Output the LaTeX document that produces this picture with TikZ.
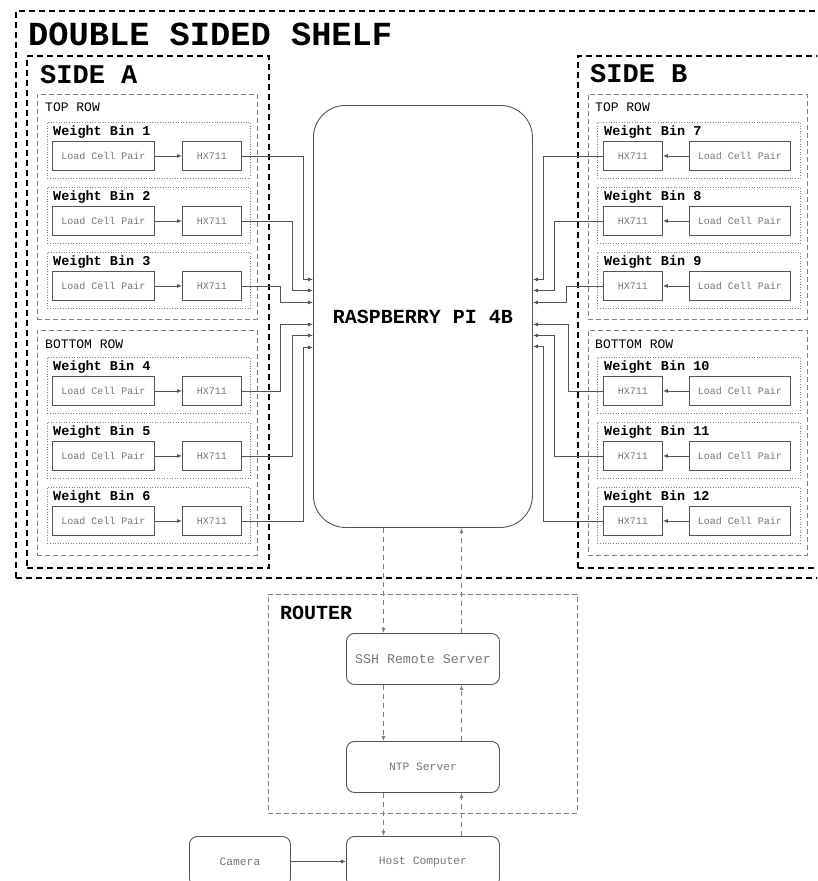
\documentclass[tikz,border=0pt]{standalone}
\usepackage{fontspec}
\setmainfont{Liberation Mono}
\usetikzlibrary{arrows.meta,calc}
\definecolor{linegray}{HTML}{555555}
\definecolor{textgray}{HTML}{777777}
\definecolor{dashgray}{HTML}{808080}
\tikzset{
  box/.style={inner sep=0pt, anchor=north west},
  shelfbox/.style={box, draw=black, line width=1.8pt, dash pattern=on 6pt off 4pt},
  rowbox/.style={box, draw=dashgray, line width=0.9pt, dash pattern=on 5pt off 3pt},
  binbox/.style={box, draw=dashgray, line width=0.9pt, dash pattern=on 1pt off 1.6pt},
  comp/.style={box, draw=linegray, line width=0.9pt, fill=white, text=textgray,
    font=\fontsize{10}{12}\selectfont},
  rcomp/.style={box, draw=linegray, line width=0.9pt, fill=white, text=textgray,
    rounded corners=8pt, minimum width=153pt, minimum height=51pt},
  conn/.style={draw=linegray, line width=0.8pt, -{Latex[length=5pt,width=4pt]}},
  dconn/.style={draw=dashgray, line width=0.8pt, dash pattern=on 5pt off 4pt,
    -{Latex[length=5pt,width=4pt]}},
  bigtitle/.style={anchor=west, inner sep=0pt, font=\bfseries\fontsize{33.7}{36}\selectfont},
  sidetitle/.style={anchor=west, inner sep=0pt, font=\bfseries\fontsize{27}{30}\selectfont},
  rowtitle/.style={anchor=west, inner sep=0pt, font=\fontsize{13}{15}\selectfont},
  bintitle/.style={anchor=west, inner sep=0pt, font=\bfseries\fontsize{13.5}{15}\selectfont},
}
\newcommand\binL[2]{%
  \node[binbox, minimum width=203pt, minimum height=56pt] (bin#1) at (47,#2) {};
  \node[bintitle] (bint#1) at (53,#2+10) {Weight Bin #1};
  \node[comp, minimum width=102pt, minimum height=29pt] (lc#1) at (52,#2+19) {Load Cell Pair};
  \node[comp, minimum width=59pt, minimum height=29pt] (hx#1) at (182,#2+19) {HX711};
  \draw[conn] (lc#1) -- (hx#1);
}
\newcommand\binR[2]{%
  \node[binbox, minimum width=203pt, minimum height=56pt] (bin#1) at (597,#2) {};
  \node[bintitle] (bint#1) at (604,#2+10) {Weight Bin #1};
  \node[comp, minimum width=59pt, minimum height=29pt] (hx#1) at (603,#2+19) {HX711};
  \node[comp, minimum width=101pt, minimum height=29pt] (lc#1) at (689,#2+19) {Load Cell Pair};
  \draw[conn] (lc#1) -- (hx#1);
}
\begin{document}
\begin{tikzpicture}[x=1pt, y=-1pt]
\useasboundingbox (0,0) rectangle (817,881);
\clip (0,0) rectangle (817,881);

% shelf
\node[shelfbox, minimum width=816pt, minimum height=567pt] (shelf) at (15,10) {};
\node[bigtitle] (shelft) at (28,34) {DOUBLE SIDED SHELF};
\node[shelfbox, minimum width=242pt, minimum height=512pt] (sideA) at (26,55) {};
\node[sidetitle] (sideAt) at (40,75) {SIDE A};
\node[shelfbox, minimum width=241pt, minimum height=512pt] (sideB) at (577,55) {};
\node[sidetitle] (sideBt) at (590,74) {SIDE B};

% rows
\node[rowbox, minimum width=220pt, minimum height=225pt] (rowAt) at (37,94) {};
\node[rowtitle] (rowAtt) at (45,107) {TOP ROW};
\node[rowbox, minimum width=220pt, minimum height=225pt] (rowAb) at (37,330) {};
\node[rowtitle] (rowAbt) at (45,344) {BOTTOM ROW};
\node[rowbox, minimum width=219pt, minimum height=225pt] (rowBt) at (588,94) {};
\node[rowtitle] (rowBtt) at (595,107) {TOP ROW};
\node[rowbox, minimum width=219pt, minimum height=225pt] (rowBb) at (588,330) {};
\node[rowtitle] (rowBbt) at (595,344) {BOTTOM ROW};

\binL{1}{122}
\binL{2}{187}
\binL{3}{252}
\binL{4}{357}
\binL{5}{422}
\binL{6}{487}
\binR{7}{122}
\binR{8}{187}
\binR{9}{252}
\binR{10}{357}
\binR{11}{422}
\binR{12}{487}

% raspberry pi
\node[box, draw=linegray, line width=0.9pt, rounded corners=32pt,
  minimum width=219pt, minimum height=422pt] (pi) at (313,105) {};
\node[font=\bfseries\fontsize{20}{22}\selectfont] (pit) at (pi.center) {RASPBERRY PI 4B};

% left connectors
\draw[conn] (hx1.east) -- ++(61,0) |- ([yshift=37pt]pi.west);
\draw[conn] (hx2.east) -- ++(50,0) |- ([yshift=26pt]pi.west);
\draw[conn] (hx3.east) -- ++(38,0) |- ([yshift=14pt]pi.west);
\draw[conn] (hx4.east) -- ++(38,0) |- ([yshift=-8pt]pi.west);
\draw[conn] (hx5.east) -- ++(50,0) |- ([yshift=-19pt]pi.west);
\draw[conn] (hx6.east) -- ++(61,0) |- ([yshift=-31pt]pi.west);
% right connectors
\draw[conn] (hx7.west) -- ++(-60,0) |- ([yshift=37pt]pi.east);
\draw[conn] (hx8.west) -- ++(-49,0) |- ([yshift=26pt]pi.east);
\draw[conn] (hx9.west) -- ++(-37,0) |- ([yshift=14pt]pi.east);
\draw[conn] (hx10.west) -- ++(-35,0) |- ([yshift=-8pt]pi.east);
\draw[conn] (hx11.west) -- ++(-49,0) |- ([yshift=-19pt]pi.east);
\draw[conn] (hx12.west) -- ++(-60,0) |- ([yshift=-30pt]pi.east);

% router
\node[box, draw=dashgray, line width=0.9pt, dash pattern=on 5pt off 3pt,
  minimum width=309pt, minimum height=219pt] (router) at (268,594) {};
\node[anchor=west, inner sep=0pt, font=\bfseries\fontsize{20}{22}\selectfont] (routert) at (280,613) {ROUTER};
\node[rcomp, font=\fontsize{13.3}{15}\selectfont] (ssh) at (346,633) {SSH Remote Server};
\node[rcomp, font=\fontsize{11.3}{13}\selectfont] (ntp) at (346,741) {NTP Server};
\node[rcomp, font=\fontsize{11.3}{13}\selectfont, minimum height=50pt] (host) at (346,836) {Host Computer};
\node[rcomp, font=\fontsize{11.3}{13}\selectfont, minimum width=101pt, minimum height=50pt] (cam) at (189,836) {Camera};

\draw[dconn] ([xshift=-39.5pt]pi.south) -- ([xshift=-39.5pt]ssh.north);
\draw[dconn] ([xshift=-39.5pt]ssh.south) -- ([xshift=-39.5pt]ntp.north);
\draw[dconn] ([xshift=-39.5pt]ntp.south) -- ([xshift=-39.5pt]host.north);
\draw[dconn] ([xshift=38.5pt]host.north) -- ([xshift=38.5pt]ntp.south);
\draw[dconn] ([xshift=38.5pt]ntp.north) -- ([xshift=38.5pt]ssh.south);
\draw[dconn] ([xshift=38.5pt]ssh.north) -- ([xshift=38.5pt]pi.south);
\draw[conn] (cam.east) -- (host.west);
\end{tikzpicture}
\end{document}
